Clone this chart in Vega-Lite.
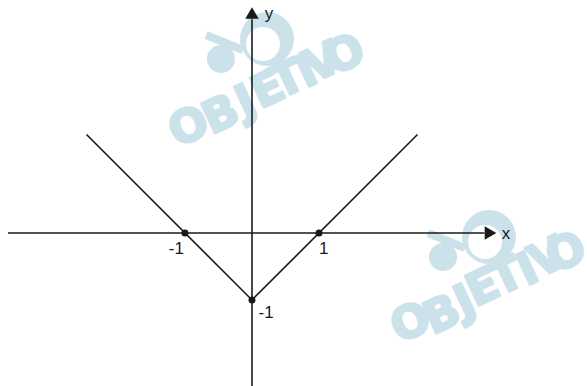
{
  "$schema": "https://vega.github.io/schema/vega-lite/v6.json",
  "width": 587,
  "height": 386,
  "autosize": {"type": "none"},
  "padding": 0,
  "background": "white",
  "config": {"view": {"stroke": null}},
  "datasets": {
    "letters": [
      {"x": -0.94, "y": 1.582, "t": "O"},
      {"x": -0.463, "y": 1.761, "t": "B"},
      {"x": -0.09, "y": 1.955, "t": "J"},
      {"x": 0.239, "y": 2.134, "t": "E"},
      {"x": 0.537, "y": 2.284, "t": "T"},
      {"x": 0.821, "y": 2.403, "t": "I"},
      {"x": 1.06, "y": 2.537, "t": "V"},
      {"x": 1.388, "y": 2.657, "t": "O"},
      {"x": 2.373, "y": -1.343, "t": "O"},
      {"x": 2.836, "y": -1.224, "t": "B"},
      {"x": 3.179, "y": -1.03, "t": "J"},
      {"x": 3.448, "y": -0.821, "t": "E"},
      {"x": 3.806, "y": -0.657, "t": "T"},
      {"x": 4.119, "y": -0.552, "t": "I"},
      {"x": 4.418, "y": -0.373, "t": "V"},
      {"x": 4.69, "y": -0.3, "t": "O"}
    ],
    "logo": [
      {"x": 0.224, "y": 2.896, "part": "big"},
      {"x": 0.164, "y": 2.821, "part": "hole"},
      {"x": -0.463, "y": 2.597, "part": "small"},
      {"x": 3.537, "y": -0.06, "part": "big"},
      {"x": 3.478, "y": -0.134, "part": "hole"},
      {"x": 2.851, "y": -0.358, "part": "small"}
    ],
    "bands": [
      {"x": -0.687, "y": 2.955, "g": "a"},
      {"x": -0.134, "y": 2.731, "g": "a"},
      {"x": 2.627, "y": 0.0, "g": "b"},
      {"x": 3.179, "y": -0.224, "g": "b"}
    ],
    "fn": [
      {"x": -2.47, "y": 1.47},
      {"x": 0, "y": -1},
      {"x": 2.47, "y": 1.47}
    ],
    "xaxis": [{"x": -3.642, "x2": 3.47, "y": 0}],
    "yaxis": [{"x": 0, "y": -2.4, "y2": 3.19}],
    "arrowx": [{"x": 3.56, "y": 0}],
    "arrowy": [{"x": 0, "y": 3.284}],
    "dots": [
      {"x": -1, "y": 0},
      {"x": 1, "y": 0},
      {"x": 0, "y": -1}
    ],
    "labels": [
      {"x": 3.79, "y": -0.02, "t": "x"},
      {"x": 0.254, "y": 3.27, "t": "y"},
      {"x": -1.13, "y": -0.245, "t": "-1"},
      {"x": 1.07, "y": -0.245, "t": "1"},
      {"x": 0.21, "y": -1.19, "t": "-1"}
    ]
  },
  "encoding": {
    "x": {"field": "x", "type": "quantitative", "scale": {"domain": [-3.761, 5.0], "nice": false, "zero": false}, "axis": null},
    "y": {"field": "y", "type": "quantitative", "scale": {"domain": [-2.284, 3.478], "nice": false, "zero": false}, "axis": null}
  },
  "layer": [
    {
      "data": {"name": "logo"},
      "transform": [{"filter": "datum.part == 'big'"}],
      "mark": {"type": "point", "shape": "circle", "filled": true, "color": "#cbe2eb", "opacity": 1, "size": 2916}
    },
    {
      "data": {"name": "logo"},
      "transform": [{"filter": "datum.part == 'hole'"}],
      "mark": {"type": "point", "shape": "circle", "filled": true, "color": "#ffffff", "opacity": 1, "size": 1156}
    },
    {
      "data": {"name": "logo"},
      "transform": [{"filter": "datum.part == 'small'"}],
      "mark": {"type": "point", "shape": "circle", "filled": true, "color": "#cbe2eb", "opacity": 1, "size": 784}
    },
    {
      "data": {"name": "bands"},
      "mark": {"type": "line", "color": "#cbe2eb", "strokeWidth": 8, "strokeCap": "butt"},
      "encoding": {"detail": {"field": "g"}}
    },
    {
      "data": {"name": "letters"},
      "mark": {"type": "text", "font": "DejaVu Sans", "fontWeight": "bold", "fontSize": 45, "fill": "#cbe2eb", "stroke": "#cbe2eb", "strokeWidth": 2.5, "strokeJoin": "round", "angle": 335, "align": "center", "baseline": "middle"},
      "encoding": {"text": {"field": "t"}}
    },
    {
      "data": {"name": "xaxis"},
      "mark": {"type": "rule", "color": "#1a1a1a", "strokeWidth": 1.6},
      "encoding": {"x2": {"field": "x2"}}
    },
    {
      "data": {"name": "yaxis"},
      "mark": {"type": "rule", "color": "#1a1a1a", "strokeWidth": 1.6},
      "encoding": {"y2": {"field": "y2"}}
    },
    {
      "data": {"name": "arrowx"},
      "mark": {"type": "point", "shape": "triangle-right", "filled": true, "color": "#1a1a1a", "opacity": 1, "size": 180}
    },
    {
      "data": {"name": "arrowy"},
      "mark": {"type": "point", "shape": "triangle-up", "filled": true, "color": "#1a1a1a", "opacity": 1, "size": 180}
    },
    {
      "data": {"name": "fn"},
      "mark": {"type": "line", "color": "#1a1a1a", "strokeWidth": 1.6}
    },
    {
      "data": {"name": "dots"},
      "mark": {"type": "point", "shape": "circle", "filled": true, "color": "#1a1a1a", "opacity": 1, "size": 49}
    },
    {
      "data": {"name": "labels"},
      "mark": {"type": "text", "font": "Liberation Sans", "fontSize": 17, "color": "#1a1a1a", "align": "center", "baseline": "middle"},
      "encoding": {"text": {"field": "t"}}
    }
  ]
}
